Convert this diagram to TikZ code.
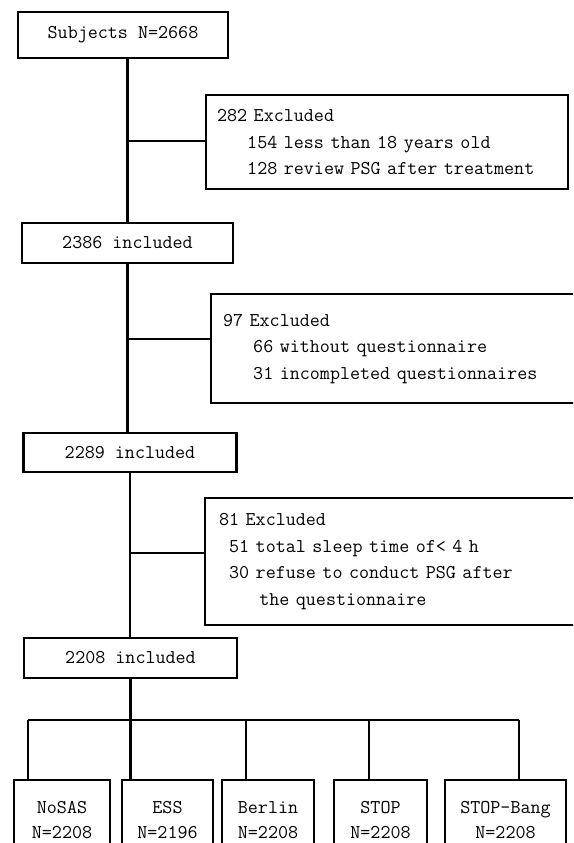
\documentclass[tikz,border=0pt]{standalone}
\usepackage{fontspec}
\usetikzlibrary{
  shapes
}

\newcommand{\flowfont}{\fontsize{19.5}{26.5}\selectfont\ttfamily}
\newcommand{\armfont}{\fontsize{19.5}{25}\selectfont\ttfamily}

\tikzset{
  mainbox/.style={draw, line width=2.2pt, font=\flowfont, inner sep=0pt},
  exclbox/.style={draw, line width=2.2pt, font=\flowfont, align=left,
                  anchor=north west, inner ysep=0pt},
  armbox/.style={draw, line width=2.2pt, font=\armfont, align=center,
                 anchor=north, inner xsep=0pt, inner ysep=17pt, minimum height=80pt},
  link/.style={line width=2.2pt}
}

\begin{document}
\begin{tikzpicture}[x=1pt, y=-1pt]
  \def\Ybus{720};
  \def\Ytop{779};
  \path[use as bounding box, clip] (0,0) rectangle (573,843);

         \node[mainbox, minimum width=210pt, minimum height=46pt] (subj) at (123,35)    {Subjects N=2668};
         \node[mainbox, minimum width=211pt, minimum height=40pt] (inc1) at (127.5,243) {2386 included};
         \node[mainbox, minimum width=213pt, minimum height=39pt] (inc2) at (130,452.5) {2289 included};
         \node[mainbox, minimum width=213pt, minimum height=40pt] (inc3) at (130.5,658) {2208 included};

         % exclusions
         \node[exclbox, inner xsep=11pt, text width=340pt, minimum height=94pt] (exc1) at (205,94)
           {282 Excluded\\ \phantom{000}154 less than 18 years old\\ \phantom{000}128 review PSG after treatment};
         \node[exclbox, inner xsep=12pt, text width=360pt, minimum height=109pt] (exc2) at (210,293)
           {97 Excluded\\ \phantom{000}66 without questionnaire\\ \phantom{000}31 incompleted questionnaires};
         \node[exclbox, inner xsep=14pt, text width=360pt, minimum height=127pt] (exc3) at (204,497)
           {81 Excluded\\ \phantom{0}51 total sleep time of< 4 h\\ \phantom{0}30 refuse to conduct PSG after\\ \phantom{0000}the questionnaire};

         % trunk
	\draw[link] (subj.south -| inc1.north) -- (inc1.north);
	\draw[link] (inc1.south) -- (inc1.south |- inc2.north);
	\draw[link] (inc2.south) -- (inc2.south |- inc3.north);

        \coordinate (j1) at (127.5,141);
        \coordinate (j2) at (128,339);
        \coordinate (j3) at (130,553);
	\draw[link] (j1) -- (j1 -| exc1.west);   % 282 out
	\draw[link] (j2) -- (j2 -| exc2.west);   % 97 out
	\draw[link] (j3) -- (j3 -| exc3.west);   % 81 out

         % questionnaires
         \node[armbox, minimum width=96pt]  (m1) at (62,\Ytop)    {NoSAS\\N=2208};
         \node[armbox, minimum width=91pt]  (m2) at (167.5,\Ytop) {ESS\\N=2196};
         \node[armbox, minimum width=92pt]  (m3) at (268,\Ytop)   {Berlin\\N=2208};
         \node[armbox, minimum width=93pt]  (m4) at (380.5,\Ytop) {STOP\\N=2208};
         \node[armbox, minimum width=121pt] (m5) at (505.5,\Ytop) {STOP-Bang\\N=2208};

        \coordinate (d1) at (28,\Ybus);
        \coordinate (d2) at (130.5,\Ybus);
        \coordinate (d3) at (246,\Ybus);
        \coordinate (d4) at (369,\Ybus);
        \coordinate (d5) at (519,\Ybus);

	\draw[link] (inc3.south) -- (d2);
	\draw[link] (d1) -- (d5);                % bus
        \foreach \i in {1,...,5}
	  \draw[link] (d\i) -- (d\i |- m\i.north);

\end{tikzpicture}
\end{document}
